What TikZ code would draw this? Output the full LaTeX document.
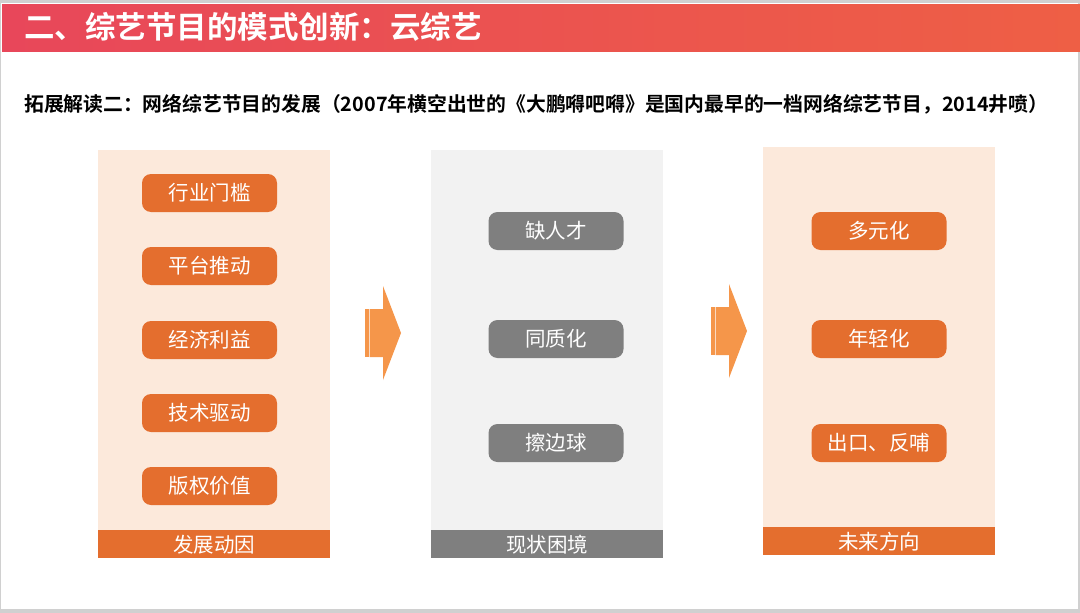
\documentclass[tikz,border=0pt]{standalone}
\usepackage{fontspec}
\setmainfont{Noto Sans CJK SC}
\newfontfamily\cjkb{Noto Sans CJK SC Bold}
\usetikzlibrary{positioning}
\definecolor{pillorange}{HTML}{E46E2E}
\definecolor{panelorange}{HTML}{FCE9DB}
\definecolor{panelgray}{HTML}{F2F2F2}
\definecolor{pillgray}{HTML}{7F7F7F}
\definecolor{arroworange}{HTML}{F5964A}
\definecolor{titleL}{HTML}{E8475A}
\definecolor{titleR}{HTML}{EE5F45}
\definecolor{edgegray}{HTML}{D0D0D0}
\tikzset{
  pill/.style={rounded corners=9pt, minimum width=135pt, minimum height=38pt, inner sep=0pt, text=white, font=\fontsize{20.5}{20.5}\selectfont},
  opill/.style={pill, fill=pillorange},
  gpill/.style={pill, fill=pillgray},
  panel/.style={minimum width=232pt, minimum height=380pt, inner sep=0pt, anchor=north west},
  footbar/.style={minimum width=232pt, minimum height=28pt, inner sep=0pt, anchor=north west, text=white, font=\fontsize{20.5}{20.5}\selectfont},
  bigarrow/.style={fill=arroworange, draw=none}
}
\begin{document}
\begin{tikzpicture}[x=1pt,y=-1pt]
\useasboundingbox (0,0) rectangle (1080,613);
\fill[edgegray] (0,0) rectangle (1080,613);
\fill[white] (1,3) rectangle (1078,609);
% title bar
\shade[left color=titleL, right color=titleR] (2,4) rectangle (1080,51);
\node[anchor=west, text=white, font=\cjkb\fontsize{30.5}{30.5}\selectfont, inner sep=0pt] (title) at (24,27) {二、综艺节目的模式创新：云综艺};
% subtitle
\node[anchor=west, text=black, font=\cjkb\fontsize{19.8}{19.8}\selectfont, inner sep=0pt] (sub) at (24,104) {拓展解读二：网络综艺节目的发展（2007年横空出世的《大鹏嘚吧嘚》是国内最早的一档网络综艺节目，2014井喷）};
% panels
\node[panel, fill=panelorange] (p1) at (98,150) {};
\node[footbar, fill=pillorange] (f1) at (98,530) {发展动因};
\node[panel, fill=panelgray] (p2) at (431,150) {};
\node[footbar, fill=pillgray] (f2) at (431,530) {现状困境};
\node[panel, fill=panelorange] (p3) at (763,147) {};
\node[footbar, fill=pillorange] (f3) at (763,527) {未来方向};
% pills column 1
\node[opill] (a1) at (209.5,193) {行业门槛};
\node[opill] (a2) at (209.5,266) {平台推动};
\node[opill] (a3) at (209.5,340) {经济利益};
\node[opill] (a4) at (209.5,413) {技术驱动};
\node[opill] (a5) at (209.5,486) {版权价值};
% pills column 2
\node[gpill] (b1) at (556,231) {缺人才};
\node[gpill] (b2) at (556,339) {同质化};
\node[gpill] (b3) at (556,443) {擦边球};
% pills column 3
\node[opill] (c1) at (879,231) {多元化};
\node[opill] (c2) at (879,339) {年轻化};
\node[opill] (c3) at (879,443) {出口、反哺};
% arrows
\foreach \ax/\ay in {365/333, 711/331} {
  \fill[bigarrow] (\ax+4.5,\ay-24) -- (\ax+18,\ay-24) -- (\ax+18,\ay-47) -- (\ax+36,\ay) -- (\ax+18,\ay+47) -- (\ax+18,\ay+24) -- (\ax+4.5,\ay+24) -- cycle;
  \fill[bigarrow] (\ax,\ay-24) rectangle (\ax+1.5,\ay+24);
  \fill[bigarrow] (\ax+2.3,\ay-24) rectangle (\ax+3.8,\ay+24);
}
\end{tikzpicture}
\end{document}
